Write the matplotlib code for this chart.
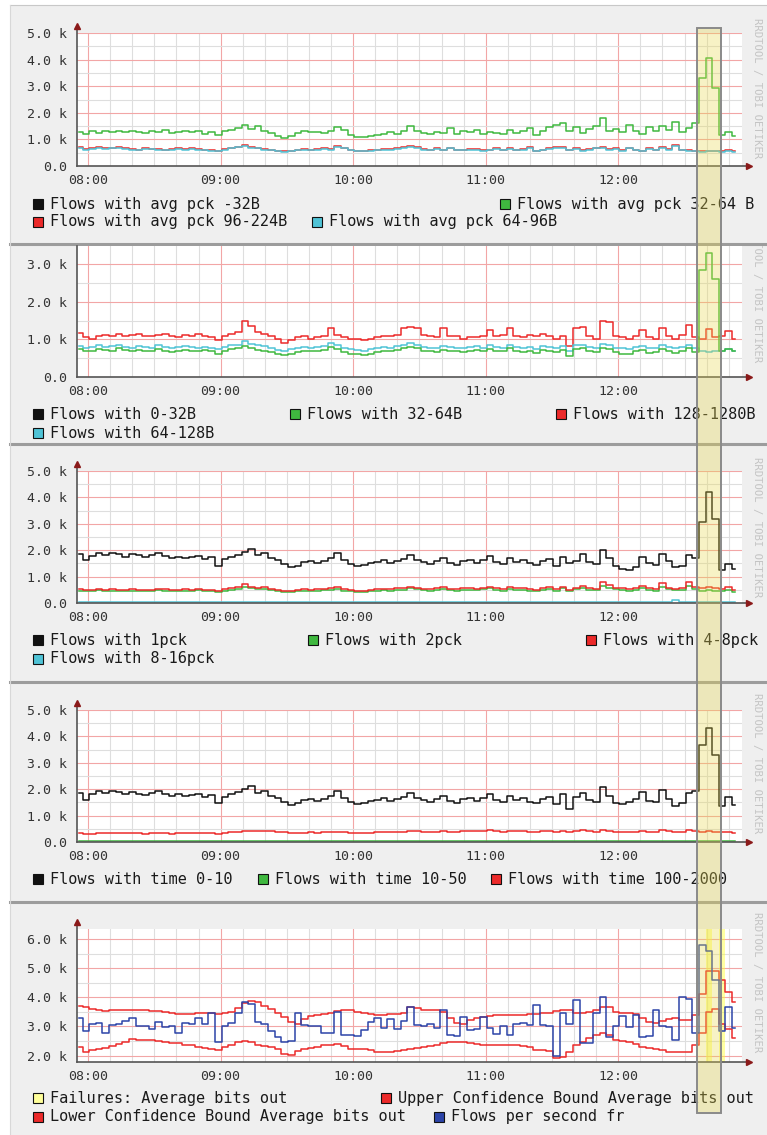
import matplotlib
matplotlib.use("Agg")
import matplotlib.pyplot as plt
import numpy as np
from matplotlib.patches import Rectangle
from matplotlib.ticker import FixedLocator, FuncFormatter

# sample times: one value every 3 minutes from 07:56 to 12:53
minutes = np.arange(100) * 3 + 7 * 60 + 56
hours = minutes / 60.0
step_h = 3 / 60.0

# ---- panel 1: average packet size (k flows) ----
p1_green = [1.28, 1.22, 1.30, 1.25, 1.32, 1.28, 1.30, 1.26, 1.33, 1.29,
            1.24, 1.31, 1.27, 1.35, 1.25, 1.28, 1.33, 1.26, 1.30, 1.22,
            1.27, 1.18, 1.30, 1.34, 1.42, 1.55, 1.38, 1.52, 1.32, 1.25,
            1.12, 1.05, 1.14, 1.24, 1.30, 1.27, 1.29, 1.25, 1.32, 1.46,
            1.35, 1.18, 1.10, 1.08, 1.13, 1.17, 1.22, 1.26, 1.21, 1.30,
            1.52, 1.33, 1.25, 1.22, 1.28, 1.24, 1.42, 1.20, 1.30, 1.26,
            1.34, 1.22, 1.29, 1.24, 1.20, 1.36, 1.25, 1.30, 1.42, 1.15,
            1.30, 1.46, 1.55, 1.62, 1.30, 1.45, 1.25, 1.38, 1.52, 1.80,
            1.32, 1.40, 1.28, 1.56, 1.30, 1.22, 1.47, 1.30, 1.52, 1.36,
            1.66, 1.28, 1.42, 1.62, 3.30, 4.05, 2.95, 1.15, 1.28, 1.12]
p1_red = [.70, .64, .68, .72, .66, .68, .70, .66, .64, .62,
          .66, .65, .63, .62, .64, .66, .63, .67, .64, .62,
          .60, .58, .64, .68, .72, .80, .70, .68, .64, .62,
          .58, .55, .58, .62, .64, .62, .63, .66, .64, .76,
          .68, .62, .58, .56, .60, .62, .64, .63, .66, .70,
          .75, .70, .64, .62, .66, .62, .68, .60, .62, .64,
          .63, .60, .62, .66, .60, .67, .62, .64, .70, .57,
          .62, .66, .70, .72, .62, .66, .60, .64, .68, .72,
          .64, .66, .60, .68, .62, .58, .66, .62, .70, .64,
          .80, .62, .60, .58, .55, .58, .56, .55, .60, .55]
p1_cyan = [.66, .60, .64, .68, .64, .66, .68, .64, .62, .61,
           .64, .63, .61, .60, .62, .64, .62, .64, .62, .60,
           .58, .56, .62, .66, .70, .74, .68, .66, .62, .60,
           .56, .54, .56, .60, .62, .61, .62, .64, .62, .72,
           .66, .60, .57, .55, .58, .60, .62, .62, .64, .68,
           .72, .68, .62, .60, .64, .61, .66, .59, .61, .62,
           .62, .58, .60, .64, .59, .65, .60, .62, .67, .55,
           .60, .64, .67, .69, .60, .64, .58, .62, .66, .69,
           .62, .64, .58, .66, .60, .56, .64, .60, .67, .62,
           .74, .60, .58, .56, .54, .57, .55, .54, .58, .54]

# ---- panel 2: flow size ----
p2_red = [1.18, 1.05, 1.02, 1.10, 1.12, 1.08, 1.14, 1.10, 1.12, 1.15,
          1.10, 1.08, 1.12, 1.14, 1.09, 1.06, 1.11, 1.08, 1.13, 1.10,
          1.07, 0.98, 1.10, 1.15, 1.20, 1.50, 1.35, 1.20, 1.15, 1.10,
          1.00, 0.90, 0.98, 1.05, 1.08, 1.02, 1.06, 1.10, 1.30, 1.12,
          1.05, 1.02, 1.00, 0.98, 1.02, 1.05, 1.10, 1.08, 1.12, 1.30,
          1.33, 1.30, 1.12, 1.08, 1.05, 1.30, 1.10, 1.08, 1.02, 1.05,
          1.05, 1.08, 1.25, 1.10, 1.12, 1.30, 1.08, 1.05, 1.12, 1.08,
          1.15, 1.08, 1.02, 1.10, 0.82, 1.30, 1.32, 1.08, 1.02, 1.50,
          1.45, 1.10, 1.05, 1.00, 1.08, 1.25, 1.05, 1.02, 1.30, 1.10,
          1.02, 1.12, 1.38, 1.05, 1.00, 1.28, 1.05, 1.10, 1.22, 1.00]
p2_cyan = [.82, .76, .80, .84, .80, .82, .85, .80, .78, .82,
           .80, .78, .84, .80, .76, .79, .82, .80, .78, .80,
           .78, .74, .80, .84, .86, .95, .88, .84, .82, .78,
           .72, .70, .74, .78, .80, .78, .80, .82, .90, .84,
           .78, .74, .72, .70, .74, .76, .80, .78, .82, .86,
           .90, .86, .80, .78, .76, .82, .80, .78, .76, .80,
           .82, .78, .84, .80, .78, .86, .80, .76, .80, .74,
           .82, .80, .76, .82, .68, .84, .86, .80, .76, .88,
           .84, .78, .76, .74, .80, .82, .76, .78, .84, .80,
           .76, .80, .86, .78, .70, .66, .70, .68, .74, .70]
p2_green = [.74, .68, .70, .74, .72, .70, .76, .72, .68, .72,
            .70, .68, .74, .70, .66, .70, .72, .70, .68, .71,
            .68, .62, .70, .74, .76, .82, .76, .72, .70, .66,
            .62, .58, .62, .66, .70, .68, .70, .72, .80, .74,
            .66, .62, .60, .58, .62, .66, .70, .68, .72, .76,
            .80, .76, .70, .68, .66, .72, .70, .68, .66, .70,
            .72, .68, .74, .70, .68, .76, .70, .66, .70, .64,
            .72, .70, .66, .72, .56, .74, .76, .70, .66, .78,
            .74, .66, .62, .60, .68, .72, .64, .66, .74, .68,
            .64, .70, .76, .66, 2.85, 3.30, 2.60, .70, .74, .68]

# ---- panel 3: packets per flow ----
p3_black = [1.85, 1.62, 1.78, 1.88, 1.80, 1.90, 1.84, 1.76, 1.86, 1.80,
            1.74, 1.82, 1.88, 1.78, 1.72, 1.76, 1.70, 1.74, 1.78, 1.68,
            1.74, 1.42, 1.66, 1.74, 1.82, 1.95, 2.05, 1.80, 1.88, 1.70,
            1.62, 1.48, 1.35, 1.42, 1.55, 1.60, 1.52, 1.58, 1.70, 1.88,
            1.62, 1.48, 1.40, 1.44, 1.52, 1.55, 1.62, 1.50, 1.58, 1.66,
            1.80, 1.62, 1.55, 1.48, 1.60, 1.72, 1.52, 1.45, 1.58, 1.64,
            1.50, 1.62, 1.78, 1.56, 1.48, 1.70, 1.55, 1.62, 1.50, 1.44,
            1.58, 1.66, 1.40, 1.75, 1.52, 1.60, 1.85, 1.55, 1.48, 2.00,
            1.72, 1.42, 1.30, 1.24, 1.38, 1.76, 1.52, 1.45, 1.84, 1.60,
            1.35, 1.42, 1.82, 1.70, 3.05, 4.20, 3.20, 1.25, 1.48, 1.30]
p3_red = [.52, .48, .50, .53, .50, .52, .51, .49, .52, .50,
          .51, .50, .53, .52, .49, .51, .52, .50, .53, .51,
          .50, .47, .52, .56, .60, .72, .62, .58, .60, .54,
          .50, .44, .46, .50, .52, .50, .52, .53, .55, .60,
          .52, .48, .46, .47, .50, .52, .54, .52, .55, .56,
          .62, .58, .54, .52, .55, .60, .53, .52, .55, .56,
          .54, .58, .62, .55, .52, .60, .55, .56, .52, .50,
          .55, .60, .52, .62, .50, .58, .66, .56, .54, .80,
          .68, .58, .55, .52, .56, .65, .55, .52, .75, .58,
          .54, .56, .78, .60, .55, .62, .58, .52, .60, .50]
p3_green = [.47, .44, .46, .48, .46, .47, .46, .45, .47, .46,
            .46, .45, .48, .47, .45, .46, .47, .46, .48, .46,
            .45, .43, .47, .50, .53, .60, .55, .52, .53, .49,
            .45, .40, .42, .45, .47, .46, .47, .48, .50, .53,
            .47, .44, .42, .43, .45, .47, .49, .47, .50, .51,
            .55, .52, .49, .47, .50, .53, .48, .47, .50, .51,
            .49, .52, .55, .50, .47, .54, .50, .51, .47, .45,
            .50, .53, .47, .55, .45, .52, .58, .50, .49, .66,
            .58, .52, .50, .47, .50, .57, .50, .47, .62, .52,
            .49, .50, .64, .52, .46, .48, .47, .44, .48, .42]
p3_cyan = [.04, .04, .04, .04, .04, .04, .04, .04, .04, .04,
           .04, .04, .04, .04, .04, .04, .04, .04, .04, .04,
           .04, .03, .04, .04, .04, .05, .05, .04, .04, .04,
           .04, .03, .03, .04, .04, .04, .04, .04, .04, .05,
           .04, .04, .03, .03, .04, .04, .04, .04, .04, .04,
           .05, .04, .04, .04, .04, .04, .04, .04, .04, .04,
           .04, .04, .05, .04, .04, .04, .04, .04, .04, .04,
           .04, .04, .04, .05, .03, .04, .05, .04, .04, .05,
           .05, .04, .04, .04, .04, .05, .04, .04, .05, .04,
           .13, .05, .05, .04, .04, .04, .04, .04, .04, .04]

# ---- panel 4: flow duration ----
p4_black = [1.86, 1.60, 1.80, 1.92, 1.84, 1.95, 1.88, 1.80, 1.90, 1.82,
            1.78, 1.86, 1.92, 1.80, 1.76, 1.80, 1.74, 1.78, 1.82, 1.72,
            1.78, 1.48, 1.72, 1.80, 1.90, 2.02, 2.12, 1.86, 1.92, 1.74,
            1.66, 1.52, 1.41, 1.48, 1.60, 1.64, 1.56, 1.62, 1.74, 1.92,
            1.66, 1.52, 1.45, 1.48, 1.56, 1.60, 1.66, 1.54, 1.62, 1.70,
            1.84, 1.66, 1.58, 1.52, 1.64, 1.76, 1.55, 1.48, 1.62, 1.68,
            1.54, 1.66, 1.82, 1.60, 1.52, 1.74, 1.58, 1.66, 1.52, 1.46,
            1.62, 1.70, 1.44, 1.80, 1.24, 1.72, 1.86, 1.58, 1.52, 2.10,
            1.76, 1.48, 1.45, 1.50, 1.62, 1.90, 1.56, 1.50, 1.98, 1.64,
            1.35, 1.48, 1.86, 1.95, 3.66, 4.30, 3.30, 1.35, 1.72, 1.40]
p4_red = [.33, .31, .32, .34, .33, .35, .34, .33, .34, .33,
          .32, .33, .34, .33, .32, .33, .34, .33, .34, .33,
          .34, .32, .35, .37, .38, .42, .40, .42, .43, .40,
          .38, .36, .34, .33, .35, .36, .35, .36, .37, .38,
          .36, .34, .33, .34, .35, .36, .37, .36, .38, .39,
          .41, .40, .38, .37, .38, .40, .39, .38, .40, .41,
          .40, .42, .44, .41, .39, .42, .40, .41, .39, .38,
          .40, .42, .39, .43, .38, .41, .44, .40, .39, .45,
          .42, .38, .37, .36, .38, .42, .39, .37, .44, .40,
          .37, .39, .44, .40, .38, .42, .39, .36, .38, .35]
p4_green = [.02, .02, .02, .02, .02, .02, .02, .02, .02, .02,
            .02, .02, .02, .02, .02, .02, .02, .02, .02, .02,
            .02, .02, .02, .02, .03, .03, .02, .02, .02, .02,
            .02, .02, .02, .02, .02, .02, .02, .02, .02, .02,
            .02, .02, .02, .02, .02, .02, .02, .02, .02, .02,
            .02, .02, .02, .02, .02, .02, .02, .02, .02, .02,
            .02, .02, .02, .02, .02, .02, .02, .02, .02, .02,
            .02, .02, .02, .02, .02, .02, .02, .02, .02, .03,
            .02, .02, .02, .02, .02, .02, .02, .02, .02, .02,
            .05, .02, .02, .02, .02, .02, .02, .02, .02, .02]

# ---- panel 5: holt-winters on flows per second ----
p5_blue = [3.30, 2.85, 3.10, 3.12, 2.78, 3.05, 3.08, 3.20, 3.28, 3.00,
           3.02, 2.90, 3.15, 2.98, 3.00, 2.78, 3.12, 3.08, 3.30, 3.10,
           3.45, 2.48, 3.00, 3.12, 3.45, 3.85, 3.78, 3.15, 3.10, 2.85,
           2.65, 2.48, 2.50, 3.45, 3.05, 3.02, 3.00, 2.78, 2.76, 3.50,
           2.72, 2.70, 2.68, 2.88, 3.15, 3.30, 2.95, 3.25, 2.90, 3.20,
           3.68, 3.05, 3.00, 3.10, 2.95, 3.57, 2.72, 2.68, 3.34, 2.88,
           2.90, 3.34, 2.95, 2.75, 3.00, 2.70, 3.10, 3.12, 3.05, 3.74,
           3.05, 3.00, 2.00, 3.45, 3.10, 3.91, 2.42, 2.45, 3.45, 4.03,
           2.65, 3.00, 3.35, 2.98, 3.40, 2.65, 2.68, 3.57, 3.00, 2.98,
           2.53, 4.03, 3.95, 2.76, 5.80, 5.60, 4.60, 2.85, 3.68, 2.95]
p5_upper = [3.70, 3.68, 3.60, 3.55, 3.54, 3.56, 3.58, 3.57, 3.58, 3.56,
            3.55, 3.54, 3.52, 3.50, 3.46, 3.44, 3.42, 3.44, 3.46, 3.48,
            3.47, 3.44, 3.46, 3.50, 3.62, 3.82, 3.86, 3.84, 3.72, 3.60,
            3.45, 3.32, 3.14, 3.10, 3.25, 3.36, 3.40, 3.42, 3.45, 3.52,
            3.58, 3.56, 3.50, 3.46, 3.42, 3.40, 3.38, 3.42, 3.44, 3.48,
            3.68, 3.62, 3.58, 3.56, 3.56, 3.50, 3.30, 3.12, 3.10, 3.22,
            3.30, 3.34, 3.36, 3.38, 3.38, 3.40, 3.38, 3.40, 3.42, 3.44,
            3.46, 3.45, 3.52, 3.57, 3.55, 3.48, 3.45, 3.50, 3.58, 3.68,
            3.66, 3.50, 3.46, 3.45, 3.44, 3.28, 3.14, 3.12, 3.20, 3.26,
            3.30, 3.24, 3.22, 3.40, 4.10, 4.90, 4.92, 4.60, 4.20, 3.85]
p5_lower = [2.30, 2.14, 2.20, 2.24, 2.26, 2.32, 2.40, 2.48, 2.56, 2.54,
            2.53, 2.52, 2.50, 2.48, 2.44, 2.42, 2.38, 2.36, 2.30, 2.26,
            2.22, 2.18, 2.30, 2.38, 2.46, 2.50, 2.46, 2.38, 2.32, 2.28,
            2.22, 2.06, 2.02, 2.16, 2.24, 2.26, 2.30, 2.36, 2.38, 2.40,
            2.32, 2.24, 2.22, 2.24, 2.18, 2.14, 2.12, 2.14, 2.16, 2.18,
            2.22, 2.26, 2.30, 2.34, 2.38, 2.45, 2.48, 2.47, 2.46, 2.44,
            2.40, 2.38, 2.38, 2.36, 2.38, 2.36, 2.38, 2.34, 2.28, 2.20,
            2.18, 2.15, 1.92, 1.95, 2.12, 2.38, 2.46, 2.62, 2.72, 2.76,
            2.70, 2.55, 2.50, 2.48, 2.40, 2.30, 2.25, 2.22, 2.18, 2.14,
            2.12, 2.12, 2.14, 2.36, 2.76, 3.50, 3.60, 3.10, 2.90, 2.62]
p5_failures = [0] * 95 + [1, 0, 1, 0, 0]

for name, s in [("p1_green", p1_green), ("p1_red", p1_red), ("p1_cyan", p1_cyan),
                ("p2_red", p2_red), ("p2_cyan", p2_cyan), ("p2_green", p2_green),
                ("p3_black", p3_black), ("p3_red", p3_red), ("p3_green", p3_green),
                ("p3_cyan", p3_cyan), ("p4_black", p4_black), ("p4_red", p4_red),
                ("p4_green", p4_green), ("p5_blue", p5_blue), ("p5_upper", p5_upper),
                ("p5_lower", p5_lower), ("p5_failures", p5_failures)]:
    assert len(s) == len(hours), f"{name}: {len(s)}"

BLACK = "#111111"
GREEN = "#3fb83f"
RED = "#ec2a2a"
CYAN = "#4fc3d6"
BLUE = "#2c44a8"
YELLOW = "#ffff9a"

MONO = "DejaVu Sans Mono"
W, H = 767, 1135

fig = plt.figure(figsize=(W / 100, H / 100), dpi=100)
fig.patch.set_facecolor("white")


def fx(x):
    return x / W


def fy(y):
    return 1 - y / H


# panel backgrounds and separators (top, bottom in px)
panels = [(5, 244), (244, 444), (444, 682), (682, 902), (902, 1135)]
for top, bot in panels:
    fig.patches.append(Rectangle((fx(10), fy(bot)), fx(W - 10), (bot - top) / H,
                                 transform=fig.transFigure, facecolor="#efefef",
                                 edgecolor="none", zorder=-5))
for yy in (5, 244, 444, 682, 902):
    lw = 0.8 if yy == 5 else 2.2
    fig.lines.append(plt.Line2D([fx(10), 1], [fy(yy), fy(yy)], transform=fig.transFigure,
                                color="#c8c8c8" if yy == 5 else "#9c9c9c", lw=lw, zorder=-4))
fig.lines.append(plt.Line2D([fx(10), fx(10)], [fy(5), 0], transform=fig.transFigure,
                            color="#d8d8d8", lw=0.8, zorder=-4))


def make_axes(top, bot, ylim, yticks, arrow=True):
    ax = fig.add_axes([fx(77), fy(bot), (742 - 77) / W, (bot - top) / H])
    ax.set_facecolor("white")
    ax.set_xlim(7 + 55 / 60, 12 + 56 / 60)
    ax.set_ylim(*ylim)
    ax.xaxis.set_major_locator(FixedLocator([8, 9, 10, 11, 12]))
    ax.xaxis.set_minor_locator(FixedLocator(np.arange(47, 78) / 6.0))
    ax.yaxis.set_major_locator(FixedLocator(yticks))
    ax.yaxis.set_minor_locator(FixedLocator(np.arange(0, 14) * 0.5))
    ax.xaxis.set_major_formatter(FuncFormatter(lambda v, p: f"{int(round(v)):02d}:00"))
    ax.yaxis.set_major_formatter(FuncFormatter(lambda v, p: "0.0" if v == 0 else f"{v:.1f} k"))
    ax.grid(which="minor", color="#dedede", lw=0.8)
    ax.grid(which="major", color="#f2a6a6", lw=0.8)
    ax.set_axisbelow(True)
    ax.tick_params(which="both", length=0, labelsize=9.5, labelcolor="#333333")
    ax.tick_params(axis="x", pad=6)
    ax.tick_params(axis="y", pad=7)
    for lab in ax.get_xticklabels() + ax.get_yticklabels():
        lab.set_family(MONO)
    for sp in ax.spines.values():
        sp.set_visible(False)
    # axis lines with arrow heads, rrdtool style
    h = bot - top
    ax.plot([0, 1 + 6 / 665], [0, 0], transform=ax.transAxes, color="#555555",
            lw=1.2, clip_on=False, zorder=4)
    ax.plot([1 + 7 / 665], [0], transform=ax.transAxes, marker=">", ms=4.5,
            color="#8b1a1a", clip_on=False, zorder=4)
    ytop = 1 + 7 / h if arrow else 1
    ax.plot([0, 0], [0, ytop], transform=ax.transAxes, color="#555555",
            lw=1.2, clip_on=False, zorder=4)
    if arrow:
        ax.plot([0], [ytop], transform=ax.transAxes, marker="^", ms=4.5,
                color="#8b1a1a", clip_on=False, zorder=4)
    return ax


def line(ax, vals, color):
    ax.plot(hours, vals, color=color, lw=1.1, drawstyle="steps-mid", zorder=3)


def legend_row(items, y):
    for x, color, text in items:
        fig.patches.append(Rectangle((fx(x), fy(y + 5)), 10 / W, 10 / H,
                                     transform=fig.transFigure, facecolor=color,
                                     edgecolor="#111111", lw=0.8, zorder=2))
        fig.text(fx(x + 17), fy(y), text, family=MONO, fontsize=11,
                 color="#1a1a1a", va="center", ha="left")


def credit(yc, clip_top, clip_bot):
    t = fig.text(fx(757), fy(yc), "RRDTOOL / TOBI OETIKER", rotation=270,
                 family=MONO, fontsize=7.6, color="#c4c4c4", ha="center", va="center")
    clip = Rectangle((0, fy(clip_bot)), 1, (clip_bot - clip_top) / H,
                     transform=fig.transFigure)
    t.set_clip_path(clip)


# panel 1
ax1 = make_axes(33, 166, (0, 5.0), [0, 1, 2, 3, 4, 5])
line(ax1, p1_green, GREEN)
line(ax1, p1_red, RED)
line(ax1, p1_cyan, CYAN)
legend_row([(33, BLACK, "Flows with avg pck -32B"),
            (500, GREEN, "Flows with avg pck 32-64 B")], 204)
legend_row([(33, RED, "Flows with avg pck 96-224B"),
            (312, CYAN, "Flows with avg pck 64-96B")], 221.5)
credit(88, 5, 244)

# panel 2
ax2 = make_axes(246, 377, (0, 3.48), [0, 1, 2, 3], arrow=False)
line(ax2, p2_red, RED)
line(ax2, p2_cyan, CYAN)
line(ax2, p2_green, GREEN)
legend_row([(33, BLACK, "Flows with 0-32B"), (290, GREEN, "Flows with 32-64B"),
            (556, RED, "Flows with 128-1280B")], 414)
legend_row([(33, CYAN, "Flows with 64-128B")], 433)
credit(292, 246, 444)

# panel 3
ax3 = make_axes(471, 603, (0, 5.0), [0, 1, 2, 3, 4, 5])
line(ax3, p3_black, BLACK)
line(ax3, p3_green, GREEN)
line(ax3, p3_red, RED)
line(ax3, p3_cyan, CYAN)
legend_row([(33, BLACK, "Flows with 1pck"), (308, GREEN, "Flows with 2pck"),
            (586, RED, "Flows with 4-8pck")], 640)
legend_row([(33, CYAN, "Flows with 8-16pck")], 659)
credit(527, 444, 682)

# panel 4
ax4 = make_axes(710, 842, (0, 5.0), [0, 1, 2, 3, 4, 5])
line(ax4, p4_black, BLACK)
line(ax4, p4_red, RED)
line(ax4, p4_green, GREEN)
legend_row([(33, BLACK, "Flows with time 0-10"), (258, GREEN, "Flows with time 10-50"),
            (491, RED, "Flows with time 100-2000")], 879)
credit(763, 682, 902)

# panel 5
ax5 = make_axes(929, 1062, (1.78, 6.35), [2, 3, 4, 5, 6])
for t, f in zip(hours, p5_failures):
    if f:
        ax5.axvspan(t - step_h / 2, t + step_h / 2, color="#ffff30", alpha=0.45,
                    lw=0, zorder=2)
line(ax5, p5_upper, RED)
line(ax5, p5_lower, RED)
line(ax5, p5_blue, BLUE)
legend_row([(33, YELLOW, "Failures: Average bits out"),
            (381, RED, "Upper Confidence Bound Average bits out")], 1098)
legend_row([(33, RED, "Lower Confidence Bound Average bits out"),
            (434, BLUE, "Flows per second fr")], 1117)
credit(982, 902, 1135)

# highlighted anomaly window spanning all panels
fig.patches.append(Rectangle((fx(697), fy(1113)), 24 / W, (1113 - 28) / H,
                             transform=fig.transFigure, facecolor="#e8d850",
                             alpha=0.33, edgecolor="none", zorder=10))
fig.patches.append(Rectangle((fx(697), fy(1113)), 24 / W, (1113 - 28) / H,
                             transform=fig.transFigure, facecolor="none",
                             edgecolor="#8a8a8a", lw=1.4, zorder=11))

fig.savefig("out.png", dpi=100)
